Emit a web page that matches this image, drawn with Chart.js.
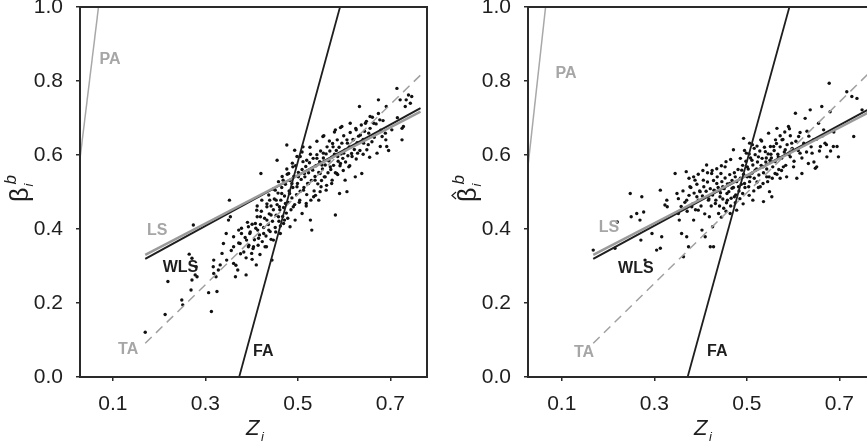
<html>
<head>
<script src="https://cdn.jsdelivr.net/npm/chart.js@4.4.3/dist/chart.umd.min.js"></script>
<style>
body { margin:0; width:867px; height:443px; overflow:hidden; background:#fff; position:relative; }
canvas { position:absolute; top:0; }
</style>
</head>
<body>
<canvas id="left" width="440" height="443" style="left:0px"></canvas>
<canvas id="right" width="440" height="443" style="left:448px"></canvas>
<script>
// tick values
const xTicks = [0.1, 0.3, 0.5, 0.7];
const yTicks = [0.0, 0.2, 0.4, 0.6, 0.8, 1.0];

// fitted lines, two end points each (Z, beta)
const lineNames = ['PA', 'FA', 'LS', 'WLS', 'TA'];
const leftLines = [
    [[0.029, 0.59], [0.069, 1.0]],
    [[0.373, 0.0], [0.591, 1.0]],
    [[0.170, 0.330], [0.765, 0.717]],
    [[0.170, 0.319], [0.765, 0.727]],
    [[0.170, 0.091], [0.765, 0.816]]
];
const rightLines = [
    [[0.027, 0.57], [0.065, 1.0]],
    [[0.372, 0.0], [0.592, 1.0]],
    [[0.168, 0.330], [0.780, 0.726]],
    [[0.168, 0.319], [0.780, 0.735]],
    [[0.168, 0.091], [0.780, 0.841]]
];
// where the line names sit
const leftLabelPos = [[0.094, 0.857], [0.425, 0.068], [0.196, 0.397], [0.246, 0.297], [0.133, 0.073]];
const rightLabelPos = [[0.109, 0.820], [0.436, 0.068], [0.202, 0.404], [0.260, 0.293], [0.148, 0.066]];

// scatter points, left panel (Z_i, beta_i^b)
const leftPts = [
[0.170,0.121],[0.213,0.169],[0.219,0.258],[0.249,0.208],[0.251,0.195],[0.274,0.411],[0.265,0.332],[0.271,0.321],[0.280,0.298],[0.278,0.276],
[0.271,0.262],[0.269,0.235],[0.282,0.271],[0.307,0.228],[0.313,0.177],[0.325,0.231],[0.318,0.316],[0.317,0.298],[0.318,0.280],[0.332,0.303],
[0.323,0.271],[0.328,0.289],[0.336,0.334],[0.346,0.316],[0.339,0.361],[0.345,0.388],[0.354,0.433],[0.352,0.478],[0.350,0.424],[0.361,0.379],
[0.361,0.352],[0.361,0.307],[0.365,0.271],[0.370,0.289],[0.372,0.397],[0.375,0.361],[0.378,0.388],[0.388,0.276],[0.389,0.370],[0.393,0.406],
[0.393,0.352],[0.396,0.388],[0.400,0.334],[0.404,0.352],[0.410,0.303],[0.411,0.451],[0.408,0.415],[0.413,0.397],[0.415,0.375],[0.419,0.433],
[0.420,0.550],[0.426,0.388],[0.429,0.352],[0.433,0.460],[0.433,0.424],[0.437,0.397],[0.439,0.478],[0.442,0.438],[0.444,0.316],[0.447,0.370],
[0.451,0.505],[0.453,0.478],[0.455,0.586],[0.458,0.433],[0.460,0.460],[0.462,0.388],[0.465,0.496],[0.468,0.532],[0.469,0.415],[0.473,0.469],
[0.476,0.627],[0.478,0.429],[0.480,0.550],[0.482,0.496],[0.483,0.406],[0.487,0.523],[0.489,0.568],[0.490,0.460],[0.493,0.613],[0.494,0.424],
[0.498,0.514],[0.501,0.541],[0.504,0.478],[0.505,0.596],[0.509,0.442],[0.511,0.622],[0.512,0.505],[0.514,0.550],[0.518,0.469],[0.519,0.586],
[0.523,0.523],[0.527,0.424],[0.530,0.397],[0.532,0.559],[0.534,0.487],[0.537,0.532],[0.541,0.591],[0.545,0.478],[0.548,0.550],[0.550,0.514],
[0.552,0.573],[0.554,0.650],[0.555,0.605],[0.559,0.541],[0.561,0.505],[0.566,0.586],[0.570,0.568],[0.573,0.523],[0.576,0.622],[0.581,0.438],
[0.581,0.668],[0.584,0.550],[0.586,0.596],[0.590,0.496],[0.592,0.577],[0.595,0.677],[0.599,0.605],[0.602,0.532],[0.606,0.501],[0.607,0.632],
[0.610,0.568],[0.613,0.686],[0.617,0.596],[0.620,0.641],[0.624,0.541],[0.626,0.668],[0.629,0.605],[0.633,0.731],[0.635,0.654],[0.638,0.550],
[0.642,0.632],[0.646,0.686],[0.649,0.614],[0.653,0.659],[0.656,0.704],[0.660,0.636],[0.664,0.686],[0.671,0.605],[0.674,0.749],[0.677,0.695],
[0.678,0.623],[0.682,0.650],[0.689,0.659],[0.691,0.731],[0.692,0.623],[0.714,0.780],[0.721,0.749],[0.725,0.672],[0.725,0.641],[0.728,0.677],
[0.732,0.731],[0.734,0.749],[0.739,0.762],[0.743,0.740],[0.746,0.758],
[0.372,0.362],[0.378,0.402],[0.383,0.338],[0.386,0.377],[0.391,0.418],[0.394,0.356],[0.397,0.392],[0.401,0.413],[0.403,0.347],[0.406,0.371],
[0.409,0.402],[0.412,0.433],[0.414,0.356],[0.417,0.384],[0.419,0.412],[0.421,0.448],[0.423,0.366],[0.426,0.404],[0.428,0.429],[0.431,0.381],
[0.433,0.468],[0.436,0.412],[0.438,0.441],[0.440,0.393],[0.442,0.462],[0.445,0.421],[0.447,0.452],[0.449,0.481],[0.451,0.404],[0.453,0.437],
[0.455,0.466],[0.457,0.497],[0.459,0.421],[0.461,0.452],[0.463,0.478],[0.465,0.512],[0.467,0.434],[0.469,0.458],[0.471,0.489],[0.473,0.521],
[0.475,0.443],[0.477,0.548],[0.479,0.472],[0.481,0.503],[0.483,0.531],[0.485,0.452],[0.487,0.484],[0.489,0.512],[0.491,0.542],[0.493,0.466],
[0.495,0.571],[0.497,0.493],[0.499,0.523],[0.501,0.553],[0.503,0.472],[0.505,0.502],[0.507,0.534],[0.509,0.561],[0.511,0.582],[0.513,0.512],
[0.515,0.541],[0.517,0.569],[0.519,0.493],[0.521,0.523],[0.523,0.552],[0.525,0.579],[0.527,0.602],[0.529,0.531],[0.531,0.562],[0.533,0.591],
[0.535,0.503],[0.537,0.542],[0.539,0.571],[0.541,0.601],[0.543,0.522],[0.545,0.553],[0.547,0.582],[0.549,0.611],[0.551,0.531],[0.553,0.562],
[0.555,0.592],[0.557,0.541],[0.559,0.573],[0.561,0.603],[0.563,0.622],[0.565,0.552],[0.567,0.584],[0.569,0.611],[0.571,0.561],[0.573,0.594],
[0.575,0.631],[0.577,0.572],[0.579,0.602],[0.581,0.552],[0.583,0.612],[0.585,0.641],[0.587,0.583],[0.589,0.621],[0.591,0.571],[0.593,0.603],
[0.595,0.632],[0.597,0.591],[0.599,0.652],[0.601,0.612],[0.603,0.581],[0.606,0.641],[0.608,0.598],[0.611,0.622],[0.613,0.661],[0.616,0.604],
[0.619,0.642],[0.622,0.615],[0.625,0.672],[0.628,0.633],[0.631,0.651],[0.634,0.612],[0.637,0.681],[0.641,0.642],[0.644,0.664],[0.648,0.691],
[0.652,0.628],[0.656,0.672],[0.661,0.702],[0.665,0.648],[0.669,0.684],[0.674,0.712],[0.679,0.667],[0.684,0.693],[0.690,0.641],[0.696,0.612],
[0.703,0.668],[0.715,0.701],[0.452,0.392],[0.462,0.408],[0.471,0.424],[0.442,0.372],[0.432,0.352],[0.418,0.331],[0.401,0.318],[0.388,0.322],
[0.376,0.333],[0.366,0.302],[0.356,0.342],[0.412,0.462],[0.422,0.478],[0.437,0.492],[0.447,0.508],[0.458,0.528],[0.466,0.542],[0.476,0.562],
[0.488,0.578],[0.498,0.596],[0.509,0.608],[0.526,0.621],[0.541,0.637],[0.556,0.652],[0.568,0.638],[0.579,0.662],[0.592,0.674],[0.518,0.462],
[0.528,0.478],[0.538,0.491],[0.548,0.501],[0.562,0.518],[0.574,0.532],[0.586,0.547],[0.598,0.558],[0.612,0.571],[0.626,0.589],[0.641,0.602],
[0.655,0.594]
];

// scatter points, right panel (Z_i, hat beta_i^b)
const rightPts = [
[0.168,0.343],[0.215,0.348],[0.220,0.419],[0.248,0.496],[0.250,0.433],[0.262,0.442],[0.269,0.424],[0.273,0.487],[0.271,0.370],[0.277,0.446],
[0.280,0.316],[0.295,0.388],[0.305,0.343],[0.313,0.348],[0.313,0.505],[0.316,0.379],[0.323,0.465],[0.327,0.478],[0.328,0.460],[0.345,0.550],
[0.349,0.496],[0.352,0.442],[0.354,0.424],[0.359,0.388],[0.363,0.325],[0.369,0.555],[0.370,0.478],[0.370,0.379],[0.374,0.352],[0.377,0.514],
[0.381,0.460],[0.385,0.424],[0.388,0.532],[0.392,0.487],[0.395,0.451],[0.399,0.501],[0.403,0.397],[0.406,0.532],[0.410,0.379],[0.413,0.573],
[0.417,0.478],[0.419,0.433],[0.421,0.352],[0.424,0.550],[0.426,0.406],[0.428,0.352],[0.429,0.505],[0.432,0.469],[0.435,0.523],[0.439,0.442],
[0.442,0.487],[0.444,0.550],[0.448,0.514],[0.450,0.456],[0.453,0.568],[0.457,0.496],[0.458,0.478],[0.463,0.523],[0.464,0.442],[0.468,0.510],
[0.471,0.614],[0.473,0.487],[0.475,0.541],[0.478,0.451],[0.482,0.514],[0.486,0.591],[0.489,0.559],[0.491,0.496],[0.493,0.645],[0.495,0.523],
[0.499,0.605],[0.501,0.568],[0.504,0.514],[0.506,0.632],[0.507,0.541],[0.511,0.586],[0.513,0.478],[0.516,0.618],[0.518,0.559],[0.522,0.527],
[0.525,0.595],[0.529,0.514],[0.530,0.641],[0.535,0.568],[0.536,0.474],[0.540,0.609],[0.543,0.541],[0.547,0.659],[0.549,0.501],[0.550,0.586],
[0.554,0.487],[0.558,0.623],[0.561,0.550],[0.565,0.672],[0.568,0.595],[0.572,0.537],[0.576,0.641],[0.579,0.568],[0.583,0.614],[0.586,0.541],
[0.590,0.677],[0.594,0.595],[0.597,0.632],[0.601,0.568],[0.605,0.713],[0.608,0.537],[0.612,0.650],[0.615,0.605],[0.619,0.550],[0.623,0.632],
[0.626,0.699],[0.630,0.664],[0.633,0.577],[0.637,0.722],[0.641,0.605],[0.644,0.641],[0.648,0.564],[0.651,0.568],[0.655,0.686],[0.659,0.623],
[0.662,0.731],[0.666,0.668],[0.669,0.632],[0.673,0.595],[0.678,0.794],[0.680,0.717],[0.687,0.623],[0.695,0.623],[0.698,0.595],[0.716,0.771],
[0.727,0.758],[0.731,0.650],[0.738,0.753],[0.749,0.722],
[0.352,0.482],[0.358,0.461],[0.362,0.503],[0.366,0.472],[0.371,0.448],[0.375,0.491],[0.379,0.512],[0.383,0.468],[0.386,0.497],[0.389,0.452],
[0.392,0.521],[0.395,0.478],[0.398,0.503],[0.401,0.462],[0.404,0.489],[0.407,0.514],[0.409,0.441],[0.412,0.502],[0.415,0.527],[0.418,0.481],
[0.421,0.509],[0.423,0.462],[0.426,0.492],[0.428,0.531],[0.431,0.503],[0.433,0.478],[0.436,0.541],[0.438,0.512],[0.441,0.462],[0.443,0.498],
[0.446,0.528],[0.448,0.481],[0.451,0.509],[0.453,0.538],[0.456,0.471],[0.458,0.522],[0.461,0.501],[0.463,0.547],[0.466,0.483],[0.468,0.531],
[0.471,0.512],[0.473,0.552],[0.476,0.492],[0.478,0.528],[0.481,0.561],[0.483,0.503],[0.486,0.537],[0.488,0.521],[0.491,0.572],[0.493,0.548],
[0.496,0.512],[0.498,0.583],[0.501,0.541],[0.503,0.562],[0.506,0.528],[0.508,0.592],[0.511,0.551],[0.513,0.573],[0.516,0.537],[0.518,0.601],
[0.521,0.562],[0.523,0.581],[0.526,0.546],[0.528,0.611],[0.531,0.572],[0.533,0.591],[0.536,0.552],[0.538,0.621],[0.541,0.581],[0.543,0.562],
[0.546,0.603],[0.548,0.541],[0.551,0.623],[0.553,0.592],[0.556,0.568],[0.559,0.612],[0.561,0.582],[0.564,0.631],[0.567,0.602],[0.569,0.561],
[0.572,0.622],[0.575,0.591],[0.578,0.642],[0.581,0.608],[0.584,0.572],[0.587,0.628],[0.591,0.601],[0.594,0.652],[0.598,0.618],[0.602,0.583],
[0.606,0.637],[0.611,0.612],[0.615,0.661],[0.619,0.592],[0.624,0.628],[0.629,0.608],[0.634,0.651],[0.639,0.622],[0.645,0.581],[0.651,0.643],
[0.657,0.611],[0.664,0.652],[0.672,0.628],[0.681,0.611],[0.688,0.662],[0.455,0.448],[0.445,0.432],[0.465,0.462],[0.475,0.471],[0.485,0.482],
[0.492,0.468],[0.505,0.491],[0.515,0.503],[0.525,0.512],[0.535,0.523],[0.545,0.528],[0.555,0.537],[0.565,0.548],[0.575,0.558],[0.505,0.603],
[0.495,0.612],[0.512,0.628],[0.522,0.624],[0.532,0.638],[0.542,0.592],[0.552,0.602],[0.562,0.641],[0.572,0.652],[0.582,0.662],[0.592,0.671],
[0.415,0.552],[0.425,0.558],[0.435,0.563],[0.445,0.571],[0.455,0.582],[0.465,0.588],[0.375,0.537],[0.385,0.541],[0.395,0.548],[0.405,0.558]
];

const GRAY = '#9a9a9a';
const INK = '#1e1e1e';
const FONT = '"Liberation Sans", Arial, sans-serif';
const lineStyle = {
    PA:  { color: '#a8a8a8', width: 1.5, dash: [] },
    FA:  { color: INK, width: 1.8, dash: [] },
    LS:  { color: GRAY, width: 2.5, dash: [] },
    WLS: { color: INK, width: 2, dash: [] },
    TA:  { color: '#a0a0a0', width: 1.5, dash: [9, 6] }
};
const labelColor = { PA: '#a6a6a6', FA: INK, LS: '#a6a6a6', WLS: INK, TA: '#a6a6a6' };

const decor = {
    id: 'decor',
    afterDatasetsDraw(chart, args, opts) {
        const ctx = chart.ctx, a = chart.chartArea;
        const x = chart.scales.x, y = chart.scales.y;
        ctx.save();
        // box
        ctx.strokeStyle = '#2a2a2a';
        ctx.lineWidth = 2;
        ctx.strokeRect(a.left, a.top, a.right - a.left, a.bottom - a.top);
        // line names
        ctx.font = 'bold 16px ' + FONT;
        ctx.textAlign = 'center';
        ctx.textBaseline = 'middle';
        lineNames.forEach((n, i) => {
            ctx.fillStyle = labelColor[n];
            ctx.fillText(n, x.getPixelForValue(opts.pos[i][0]), y.getPixelForValue(opts.pos[i][1]));
        });
        // x title Z_i
        ctx.fillStyle = INK;
        ctx.strokeStyle = INK;
        ctx.textAlign = 'left';
        ctx.textBaseline = 'alphabetic';
        ctx.font = 'italic 22px ' + FONT;
        ctx.fillText('Z', a.left + 166, 435);
        ctx.font = 'italic 13px ' + FONT;
        ctx.fillText('i', a.left + 181, 441);
        // y title beta_i^b
        ctx.translate(28, 202);
        ctx.rotate(-Math.PI / 2);
        ctx.font = '25px ' + FONT;
        ctx.fillText('β', 0, 0);
        const w = ctx.measureText('β').width;
        if (opts.hat) {
            ctx.lineWidth = 1.2;
            ctx.beginPath();
            ctx.moveTo(3, -20);
            ctx.lineTo(6.5, -24);
            ctx.lineTo(10, -20);
            ctx.stroke();
        }
        ctx.font = 'italic 13px ' + FONT;
        ctx.fillText('i', w + 1, 5);
        ctx.font = 'italic 17px ' + FONT;
        ctx.fillText('b', w + 3, -12);
        ctx.restore();
    }
};

function tickAxis(min, max, ticks, fitKey, fitVal) {
    return {
        type: 'linear',
        min: min,
        max: max,
        afterBuildTicks: s => { s.ticks = ticks.map(v => ({ value: v })); },
        afterFit: s => {
            s[fitKey] = fitVal;
            // let the plot box run right up to the canvas padding
            s.paddingTop = 0; s.paddingBottom = 0;
            s.paddingLeft = 0; s.paddingRight = 0;
        },
        ticks: {
            callback: v => v.toFixed(1),
            color: INK,
            font: { family: FONT, size: 21 },
            padding: fitKey === 'width' ? 13 : 11,
            maxRotation: 0,
            autoSkip: false
        },
        grid: { drawOnChartArea: false, drawTicks: true, tickLength: 4, color: '#2a2a2a', lineWidth: 1.5 },
        border: { display: false },
        title: { display: false }
    };
}

function makePanel(id, pts, lines, pos, hat, xMin) {
    const sets = lines.map((seg, i) => ({
        label: lineNames[i],
        data: seg.map(p => ({ x: p[0], y: p[1] })),
        showLine: true,
        pointRadius: 0,
        borderColor: lineStyle[lineNames[i]].color,
        borderWidth: lineStyle[lineNames[i]].width,
        borderDash: lineStyle[lineNames[i]].dash,
        order: 1
    }));
    sets.push({
        label: 'points',
        data: pts.map(p => ({ x: p[0], y: p[1] })),
        pointRadius: 1.7,
        pointBorderWidth: 0,
        backgroundColor: '#111',
        borderColor: '#111',
        order: 2
    });
    new Chart(document.getElementById(id), {
        type: 'scatter',
        data: { datasets: sets },
        options: {
            responsive: false,
            animation: false,
            devicePixelRatio: 1,
            layout: { padding: { top: 7, right: 13, left: 0, bottom: 0 } },
            plugins: {
                legend: { display: false },
                tooltip: { enabled: false },
                decor: { pos: pos, hat: hat }
            },
            scales: {
                x: tickAxis(xMin, xMin + 0.75, xTicks, 'height', 66),
                y: tickAxis(0, 1, yTicks, 'width', 80)
            }
        },
        plugins: [decor]
    });
}

makePanel('left', leftPts, leftLines, leftLabelPos, false, 0.029);
makePanel('right', rightPts, rightLines, rightLabelPos, true, 0.027);
</script>
</body>
</html>
